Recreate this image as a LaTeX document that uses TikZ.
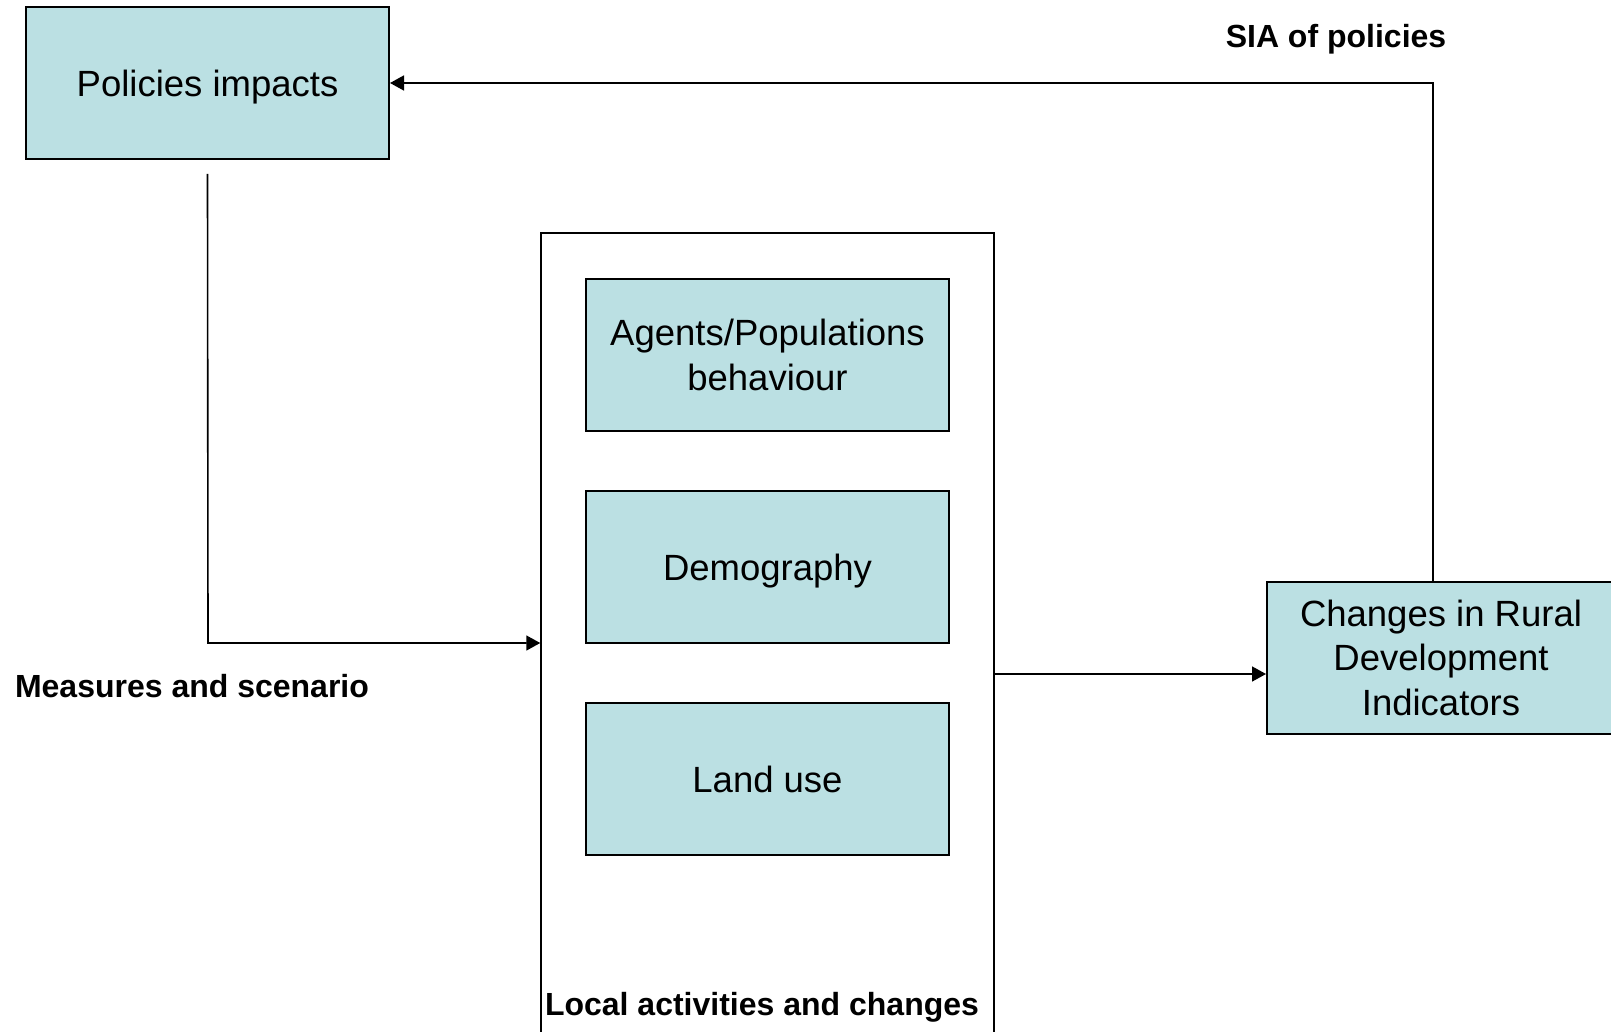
\documentclass[tikz,border=0pt]{standalone}
\usepackage{fontspec}
\setmainfont{Liberation Sans}
\usetikzlibrary{arrows.meta,calc}
\definecolor{boxfill}{HTML}{BBE0E3}

\tikzset{
  block/.style={draw, line width=1pt, fill=boxfill, align=center, inner sep=0pt,
    minimum width=181.5pt, minimum height=76pt,
    font=\fontsize{18.25}{22.25}\selectfont},
  oneline/.style={text height=17pt, text depth=3.5pt},
  frame/.style={draw, line width=0.75pt, inner sep=0pt,
    minimum width=226.5pt, minimum height=410pt},
  caption/.style={anchor=base, font=\fontsize{16}{19}\selectfont\bfseries},
  link/.style={line width=0.8pt, -{Triangle[length=7pt,width=7.5pt]}},
}

\begin{document}
\begin{tikzpicture}[x=0.5pt, y=-0.5pt]
    \useasboundingbox (0,0) rectangle (1611,1032);
    % the local model and its three parts
    \node[frame] (local) at (767.5,643) {};
    \node[block] (agents) at (767.5,355) {Agents/Populations\\behaviour};
    \node[block, oneline] (demo) at (767.5,566.5) {Demography};
    \node[block, oneline] (land) at (767.5,778.5) {Land use};
    \node[caption] (localtxt) at (762,1015) {Local activities and changes};
    % policies in, indicators out
    \node[block, oneline] (pol) at (207.5,83) {Policies impacts};
    \node[block, minimum width=174pt] (chg) at (1441,657.5) {Changes in Rural\\Development\\Indicators};
    \node[caption] (siatxt) at (1336,48) {SIA of policies};
    \node[caption] (msrtxt) at (192,697) {Measures and scenario};
    \coordinate (ret) at (1433,83);
    \coordinate (msr) at (208,643);
    \coordinate (out) at (0,674);
    \draw[link] ([yshift=-7pt]pol.south) -- (msr) -- (local.west);
    \draw[link] (local.east |- out) -- (chg.west |- out);
    \draw[link] (chg.north -| ret) -- (ret) -- (pol.east);
\end{tikzpicture}
\end{document}
